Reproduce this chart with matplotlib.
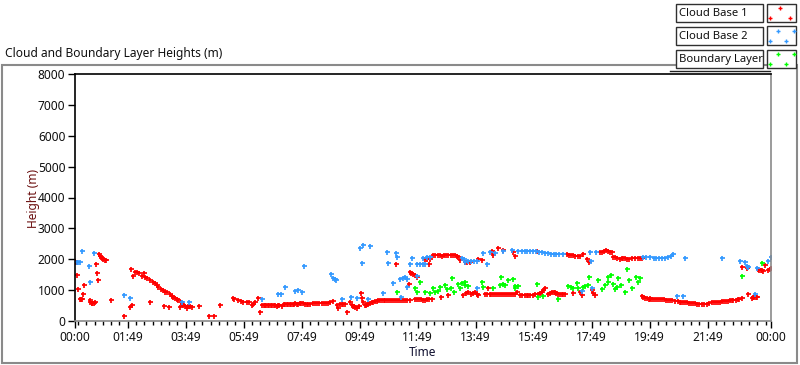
import matplotlib
matplotlib.use("Agg")
import matplotlib.pyplot as plt
from matplotlib.patches import Rectangle
from matplotlib.lines import Line2D

plt.rcParams['font.family'] = ['Noto Sans', 'DejaVu Sans']

# ---------------- data (hours since 00:00, height in m) ----------------
cb1_time = [0.00, 0.03, 0.08, 0.11, 0.17, 0.20, 0.24, 0.29, 0.32, 0.50, 0.53, 0.57, 0.60, 0.64, 0.68,
            0.72, 0.75, 0.79, 0.82, 0.86, 0.90, 0.94, 0.98, 1.03, 1.07, 1.23, 1.69, 1.90, 1.98, 1.94,
            2.01, 2.07, 2.13, 2.20, 2.30, 2.39, 2.40, 2.49, 2.59, 2.60, 2.68, 2.75, 2.82, 2.87, 2.95,
            3.03, 3.08, 3.10, 3.16, 3.25, 3.27, 3.35, 3.39, 3.45, 3.50, 3.56, 3.62, 3.65, 3.70, 3.73,
            3.78, 3.85, 3.90, 3.95, 4.02, 4.29, 4.63, 4.80, 5.01, 5.44, 5.49, 5.63, 5.72, 5.80, 5.92,
            6.00, 6.09, 6.15, 6.21, 6.32, 6.38, 6.44, 6.50, 6.55, 6.60, 6.65, 6.70, 6.75, 6.80, 6.85,
            6.90, 6.95, 7.00, 7.05, 7.13, 7.20, 7.25, 7.30, 7.35, 7.40, 7.45, 7.50, 7.55, 7.60, 7.65,
            7.70, 7.75, 7.80, 7.87, 7.93, 8.00, 8.05, 8.12, 8.20, 8.27, 8.35, 8.42, 8.50, 8.57, 8.65,
            8.72, 8.80, 8.91, 9.02, 9.08, 9.14, 9.20, 9.25, 9.31, 9.39, 9.48, 9.54, 9.58, 9.62, 9.67,
            9.71, 9.80, 9.86, 9.88, 9.94, 10.00, 10.04, 10.08, 10.12, 10.17, 10.23, 10.29, 10.35,
            10.40, 10.46, 10.52, 10.58, 10.64, 10.70, 10.76, 10.83, 10.90, 10.97, 11.03, 11.07,
            11.10, 11.17, 11.24, 11.30, 11.37, 11.45, 11.52, 11.55, 11.55, 11.60, 11.65, 11.72,
            11.78, 11.72, 11.78, 11.85, 11.92, 12.00, 12.07, 12.15, 12.22, 12.30, 12.07, 12.15,
            12.22, 12.24, 12.36, 12.43, 12.50, 12.57, 12.65, 12.72, 12.80, 12.87, 12.95, 13.02,
            13.10, 13.16, 13.22, 13.28, 13.45, 13.53, 13.62, 13.91, 14.02, 14.37, 14.43, 14.60,
            14.77, 15.11, 15.17, 15.92, 12.62, 12.85, 13.39, 13.47, 13.56, 13.65, 13.72, 13.79,
            13.85, 13.91, 14.14, 14.20, 14.25, 14.30, 14.35, 14.42, 14.48, 14.55, 14.62, 14.68,
            14.75, 14.82, 14.88, 14.95, 15.02, 15.10, 15.17, 15.23, 15.34, 15.42, 15.50, 15.57,
            15.63, 15.70, 15.78, 15.86, 15.95, 16.03, 16.09, 16.15, 16.21, 16.32, 16.38, 16.44,
            16.50, 16.55, 16.60, 16.65, 16.72, 16.78, 16.84, 16.90, 17.16, 17.41, 17.47, 17.82,
            17.87, 17.93, 16.95, 17.02, 17.10, 17.17, 17.25, 17.33, 17.41, 17.53, 17.67, 17.74,
            18.10, 18.17, 18.24, 18.31, 18.38, 18.45, 18.51, 18.56, 18.63, 18.70, 18.79, 18.85,
            18.90, 18.96, 19.02, 19.10, 19.20, 19.30, 19.40, 19.47, 19.54, 19.54, 19.60, 19.65,
            19.72, 19.78, 19.83, 19.83, 19.90, 19.95, 20.03, 20.10, 20.17, 20.23, 20.30, 20.37,
            20.44, 20.52, 20.60, 20.70, 20.78, 20.85, 20.90, 20.98, 21.05, 21.10, 21.18, 21.25,
            21.30, 21.38, 21.45, 21.53, 21.61, 21.70, 21.78, 21.86, 21.95, 22.03, 22.10, 22.18,
            22.25, 22.30, 22.38, 22.45, 22.50, 22.58, 22.65, 22.70, 22.78, 22.85, 22.90, 22.99,
            23.22, 23.33, 23.37, 23.42, 23.47, 23.51, 22.99, 23.18, 23.56, 23.60, 23.65, 23.69,
            23.73, 23.79, 23.91, 23.96, 24.00]
cb1_height = [1944, 1900, 1490, 1037, 713, 713, 713, 865, 1166, 680, 620, 590, 570, 580, 610,
              1837, 1545, 1318, 2160, 2110, 2060, 2030, 2000, 1990, 1976, 680, 162, 444, 518, 1675,
              1458, 1597, 1578, 1540, 1468, 1545, 1430, 1383, 626, 1320, 1274, 1230, 1160, 1111, 1050,
              990, 486, 950, 930, 463, 860, 800, 788, 750, 710, 680, 463, 600, 550, 518,
              470, 420, 480, 470, 460, 486, 162, 162, 518, 755, 703, 680, 650, 626, 626,
              600, 518, 560, 626, 735, 301, 520, 530, 520, 525, 530, 520, 520, 510, 510,
              505, 500, 510, 520, 480, 540, 545, 550, 545, 540, 550, 560, 565, 570, 565,
              560, 575, 590, 575, 560, 560, 560, 565, 570, 575, 580, 580, 580, 585, 590,
              595, 600, 648, 518, 411, 550, 555, 560, 550, 301, 626, 518, 490, 470, 450,
              431, 496, 897, 735, 626, 518, 530, 540, 555, 573, 600, 626, 645,
              660, 670, 680, 685, 690, 690, 690, 685, 680, 680, 685, 1837,
              690, 690, 685, 680, 680, 685, 1189, 680, 1597, 1560, 1520, 1490,
              1435, 703, 703, 703, 700, 690, 695, 700, 703, 703, 2010, 2000,
              1837, 2010, 2130, 2135, 2140, 2135, 2120, 2125, 2130, 2135, 2140, 2135,
              2130, 2110, 2084, 1976, 1922, 1922, 1922, 2010, 1976, 2268, 2138, 2355,
              2300, 2225, 2117, 2268, 788, 842, 842, 900, 950, 880, 900, 950,
              880, 842, 870, 870, 1059, 875, 870, 865, 860, 860, 860, 870,
              880, 875, 865, 860, 865, 870, 870, 930, 842, 840, 840, 845,
              842, 842, 850, 860, 880, 897, 950, 1004, 1059, 880, 900, 950,
              940, 950, 920, 880, 875, 870, 875, 880, 897, 950, 842, 1004,
              920, 842, 2160, 2150, 2140, 2130, 2120, 2117, 2117, 2171, 2000, 1902,
              2245, 2250, 2270, 2300, 2270, 2250, 2245, 2084, 2070, 2050, 2010, 2030,
              2040, 2030, 2010, 2020, 2030, 2030, 2031, 2031, 2031, 810, 780, 760,
              740, 720, 755, 703, 720, 720, 715, 710, 705, 700, 700, 695,
              690, 680, 670, 650, 640, 630, 620, 615, 605, 600, 590, 585,
              580, 570, 560, 550, 541, 550, 560, 580, 600, 605, 610, 620,
              630, 640, 650, 655, 660, 670, 680, 690, 695, 700, 720, 735,
              865, 755, 770, 780, 785, 788, 1738, 1706, 1675, 1660, 1650, 1640,
              1630, 1814, 1652, 1680, 1706]

cb2_time = [0.08, 0.12, 0.17, 0.23, 0.48, 0.52, 0.67, 1.69, 1.90, 3.68, 3.94, 6.44, 7.01, 7.10,
            7.24, 7.59, 7.70, 7.82, 7.91, 8.82, 8.90, 8.95, 9.00, 9.19, 9.51, 9.71, 9.83, 9.94,
            9.91, 10.11, 10.17, 10.61, 10.75, 10.80, 10.95, 11.07, 11.11, 11.21, 11.23, 11.32,
            11.38, 11.44, 11.44, 11.55, 11.61, 11.78, 11.80, 11.90, 12.00, 12.07, 12.01, 12.13,
            12.24, 13.33, 13.40, 13.45, 13.55, 13.65, 13.75, 13.85, 13.85, 14.08, 14.20, 14.31,
            14.48, 14.77, 15.06, 15.29, 15.40, 15.50, 15.60, 15.69, 15.80, 15.90, 16.00, 16.10,
            16.20, 16.30, 16.40, 16.50, 16.60, 16.70, 16.84, 17.47, 17.76, 17.79, 17.82, 17.95,
            19.60, 19.70, 19.83, 19.95, 20.05, 20.15, 20.25, 20.35, 20.45, 20.55, 20.63, 20.75,
            20.96, 21.03, 22.30, 22.93, 23.10, 23.16, 23.22, 23.45, 23.51, 23.88, 24.00]
cb2_height = [1902, 1900, 1902, 2268, 1792, 1254, 2193, 842, 735, 626, 606, 713, 865, 865,
              1092, 980, 1000, 950, 1782, 1513, 1400, 1350, 1328, 703, 768, 735, 2355, 2462,
              1869, 703, 2430, 897, 2225, 1869, 1241, 2193, 2084, 1351, 788, 1383,
              1435, 1351, 1092, 1837, 2031, 1468, 1837, 1837, 1837, 1837, 2050, 2084,
              2084, 2030, 2000, 1922, 1930, 1940, 1950, 1944, 1059, 2193, 1837, 2245,
              2193, 2268, 2300, 2270, 2280, 2270, 2275, 2278, 2260, 2270, 2240, 2230,
              2210, 2200, 2180, 2170, 2160, 2160, 2160, 972, 2245, 1954, 1080, 2245,
              2063, 2060, 2063, 2050, 2040, 2050, 2040, 2050, 2060, 2100, 2171, 821,
              821, 2031, 2050, 1944, 1922, 1792, 1738, 865, 1706, 1944, 2084]

bl_time = [11.09, 11.72, 11.78, 11.90, 12.07, 12.24, 12.36, 12.41, 12.53, 12.59, 12.76, 12.82,
           12.97, 13.01, 13.08, 13.22, 13.28, 13.35, 13.45, 13.45, 13.56, 14.02, 14.08, 14.43,
           14.66, 14.69, 14.75, 14.83, 14.94, 15.11, 15.17, 15.17, 15.26, 15.92, 15.97, 16.15,
           16.64, 17.01, 17.10, 17.18, 17.30, 17.36, 17.53, 17.60, 17.70, 17.74, 18.05, 18.16,
           18.28, 18.39, 18.39, 18.48, 18.56, 18.62, 18.68, 18.74, 18.82, 18.97, 19.04, 19.11,
           19.20, 19.34, 19.43, 19.48, 22.99, 23.70]
bl_height = [930, 1059, 930, 1274, 950, 897, 1059, 930, 972, 1111, 1166, 1037,
             1080, 1383, 930, 1189, 1059, 1230, 1274, 1166, 1144, 1274, 1111, 1080,
             1180, 1435, 1200, 1180, 1328, 1361, 1144, 1059, 1144, 1189, 788, 810,
             703, 1144, 1100, 1080, 1221, 1080, 1111, 1130, 1166, 1435, 1328, 1037,
             1166, 1274, 1435, 1490, 1189, 1037, 1111, 1383, 1166, 930, 1675, 1328,
             1080, 1435, 1274, 1383, 1468, 1869]

series_names = ["Cloud Base 1", "Cloud Base 2", "Boundary Layer"]
series_colors = ["#ff0000", "#3399ff", "#00ff00"]

major_tick_hours = [0, 1 + 49/60, 3 + 49/60, 5 + 49/60, 7 + 49/60, 9 + 49/60, 11 + 49/60,
                    13 + 49/60, 15 + 49/60, 17 + 49/60, 19 + 49/60, 21 + 49/60, 24]
major_tick_labels = ["00:00", "01:49", "03:49", "05:49", "07:49", "09:49", "11:49",
                     "13:49", "15:49", "17:49", "19:49", "21:49", "00:00"]
y_ticks = [0, 1000, 2000, 3000, 4000, 5000, 6000, 7000, 8000]

# ---------------- figure ----------------
W, H = 800, 365
fig = plt.figure(figsize=(W / 100, H / 100), dpi=100)
fig.patch.set_facecolor("white")

def fx(px):
    return px / W

def fy(py):
    return 1 - py / H

FS = 8.6
LFS = 8.1

# outer frame
fig.add_artist(Rectangle((fx(2), fy(363)), fx(797) - fx(2), fy(65) - fy(363),
                         transform=fig.transFigure, fill=False, edgecolor="#8a8a8a", lw=1.5))
fig.add_artist(Line2D([fx(670), fx(770)], [fy(70.5), fy(70.5)], transform=fig.transFigure,
                      color="#202020", lw=1))

ax = fig.add_axes([fx(75), fy(321), fx(771) - fx(75), fy(74) - fy(321)])
ax.set_xlim(0, 24)
ax.set_ylim(0, 8000)

for t, h, c in [(cb1_time, cb1_height, series_colors[0]),
                (cb2_time, cb2_height, series_colors[1]),
                (bl_time, bl_height, series_colors[2])]:
    ax.plot(t, h, linestyle="none", marker="+", markersize=3.6, markeredgewidth=1.25, color=c,
            clip_on=True)

# ticks
ax.set_xticks(major_tick_hours)
ax.set_xticklabels(major_tick_labels, fontsize=FS)
minor = []
k = -6
while True:
    t = major_tick_hours[1] + k * 2 / 7
    if t > 24:
        break
    if t >= 0 and all(abs(t - m) > 1e-3 for m in major_tick_hours):
        minor.append(t)
    k += 1
ax.set_xticks(minor, minor=True)
ax.set_yticks(y_ticks)
ax.set_yticklabels([str(v) for v in y_ticks], fontsize=FS)
ax.tick_params(axis="both", which="major", direction="out", length=5, width=1, color="black",
               labelcolor="#101010", pad=2)
ax.tick_params(axis="x", which="minor", direction="out", length=3, width=1, color="black")

for side, col in [("left", "black"), ("top", "black"), ("right", "#8a8a8a"), ("bottom", "#8a8a8a")]:
    ax.spines[side].set_color(col)
    ax.spines[side].set_linewidth(1.2)

# labels and title
fig.text(fx(5), fy(53), "Cloud and Boundary Layer Heights (m)", fontsize=FS, ha="left",
         va="center", color="#101010")
fig.text(fx(423), fy(353), "Time", fontsize=FS, ha="center", va="center", color="#101030")
fig.text(fx(33), fy(198), "Height (m)", fontsize=FS, ha="center", va="center", rotation=90,
         color="#6b0f0f")

# legend (plot-legend style boxes)
rows = [(4, 21.5), (27, 44.5), (50, 67.5)]
for i, (name, col) in enumerate(zip(series_names, series_colors)):
    y0, y1 = rows[i]
    fig.add_artist(Rectangle((fx(676), fy(y1)), fx(762.5) - fx(676), fy(y0) - fy(y1),
                             transform=fig.transFigure, facecolor="white", edgecolor="#303030",
                             lw=1))
    fig.text(fx(679), fy((y0 + y1) / 2 + 0.5), name, fontsize=LFS, ha="left", va="center",
             color="#101010")
    fig.add_artist(Rectangle((fx(767), fy(y1 + 0.5)), fx(796) - fx(767), fy(y0 - 0.5) - fy(y1 + 0.5),
                             transform=fig.transFigure, facecolor="white", edgecolor="#303030",
                             lw=1))
    if i == 0:
        pts = [(779.5, y0 + 3.5), (769.5, y0 + 13.5), (789.5, y0 + 13.5)]
    else:
        pts = [(777.5, y0 + 3.5), (793.5, y0 + 3.5), (769.5, y0 + 13.5), (785.5, y0 + 13.5)]
    fig.add_artist(Line2D([fx(p[0]) for p in pts], [fy(p[1]) for p in pts],
                          transform=fig.transFigure, linestyle="none", marker="+",
                          markersize=3.2, markeredgewidth=1.0, color=col))

fig.savefig("out.png", dpi=100, facecolor="white")
